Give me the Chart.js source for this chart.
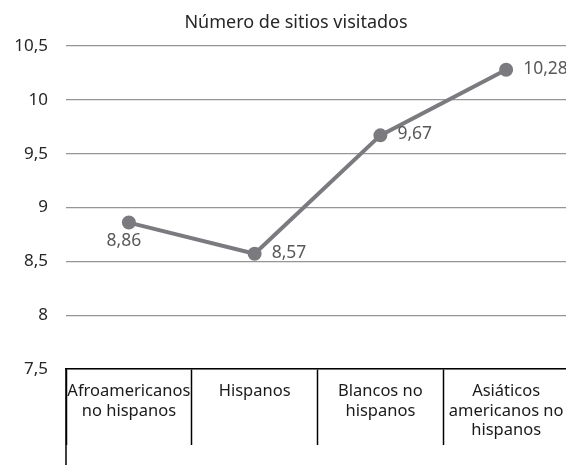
<!DOCTYPE html>
<html lang="es">
<head>
<meta charset="utf-8">
<title>Número de sitios visitados</title>
<script src="https://cdn.jsdelivr.net/npm/chart.js@4"></script>
<style>
  html, body { margin: 0; padding: 0; background: #fff; overflow: hidden; }
  #grafico { display: block; }
</style>
</head>
<body>
<canvas id="grafico" width="592" height="475"></canvas>
<script>
// datos
const titulo = 'Número de sitios visitados';
const categorias = [
  ['Afroamericanos', 'no hispanos'],
  ['Hispanos'],
  ['Blancos no', 'hispanos'],
  ['Asiáticos', 'americanos no', 'hispanos']
];
const sitios = [8.86, 8.57, 9.67, 10.28];
const ejeMin = 7.5;
const ejeMax = 10.5;
const paso = 0.5;

const fuente = "'Noto Sans', 'Open Sans', sans-serif";
const gris = '#7b7b7f';

const coma = v => String(v).replace('.', ',');

// título centrado sobre todo el lienzo
const tituloArriba = {
  id: 'tituloArriba',
  afterDraw(chart) {
    const ctx = chart.ctx;
    ctx.save();
    ctx.font = '18px ' + fuente;
    ctx.fillStyle = '#262626';
    ctx.textAlign = 'center';
    ctx.textBaseline = 'alphabetic';
    ctx.fillText(titulo, chart.width / 2, 28);
    ctx.restore();
  }
};

// etiquetas de valor junto a cada punto
const etiquetasValor = {
  id: 'etiquetasValor',
  afterDatasetsDraw(chart) {
    const ctx = chart.ctx;
    const meta = chart.getDatasetMeta(0);
    const lugar = chart.data.datasets[0].lugarEtiqueta || [];
    ctx.save();
    ctx.font = '17.5px ' + fuente;
    ctx.fillStyle = '#595959';
    ctx.textBaseline = 'middle';
    meta.data.forEach((p, i) => {
      const texto = coma(chart.data.datasets[0].data[i]);
      if (lugar[i] === 'abajo') {
        ctx.textAlign = 'center';
        ctx.fillText(texto, p.x - 5, p.y + 18);
      } else {
        ctx.textAlign = 'left';
        ctx.fillText(texto, p.x + 17, p.y - 1);
      }
    });
    ctx.restore();
  }
};

// línea vertical izquierda bajo el eje de categorías
const bordeIzq = {
  id: 'bordeIzq',
  afterDraw(chart) {
    const { ctx, chartArea } = chart;
    ctx.save();
    ctx.strokeStyle = '#000';
    ctx.lineWidth = 1.5;
    ctx.beginPath();
    ctx.moveTo(chartArea.left, chartArea.bottom);
    ctx.lineTo(chartArea.left, chartArea.bottom + 96);
    ctx.stroke();
    ctx.restore();
  }
};

new Chart(document.getElementById('grafico'), {
  type: 'line',
  data: {
    labels: categorias,
    datasets: [{
      label: titulo,
      data: sitios,
      borderColor: gris,
      backgroundColor: gris,
      borderWidth: 4,
      pointRadius: 5,
      pointHoverRadius: 5,
      tension: 0,
      lugarEtiqueta: ['abajo', 'derecha', 'derecha', 'derecha']
    }]
  },
  options: {
    responsive: false,
    animation: false,
    layout: { padding: { top: 46, right: 23, left: 0, bottom: 0 } },
    plugins: {
      legend: { display: false },
      tooltip: { enabled: false },
      title: { display: false }
    },
    scales: {
      x: {
        offset: true,
        grid: {
          offset: true,
          drawOnChartArea: false,
          tickLength: 76,
          tickColor: '#000',
          tickWidth: 1.5
        },
        border: { color: '#000', width: 1.5 },
        ticks: {
          color: '#1a1a1a',
          font: { family: fuente, size: 16.5, lineHeight: 1.18 },
          maxRotation: 0,
          autoSkip: false,
          padding: -63
        },
        afterFit(scale) { scale.height = 106; }
      },
      y: {
        min: ejeMin,
        max: ejeMax,
        border: { display: false },
        grid: {
          drawTicks: false,
          color: '#959595',
          lineWidth: 1.3
        },
        ticks: {
          stepSize: paso,
          padding: 18,
          color: '#262626',
          font: { family: fuente, size: 17 },
          callback: v => coma(v)
        },
        afterFit(scale) { scale.width = 66; }
      }
    }
  },
  plugins: [etiquetasValor, bordeIzq, tituloArriba]
});
</script>
</body>
</html>
